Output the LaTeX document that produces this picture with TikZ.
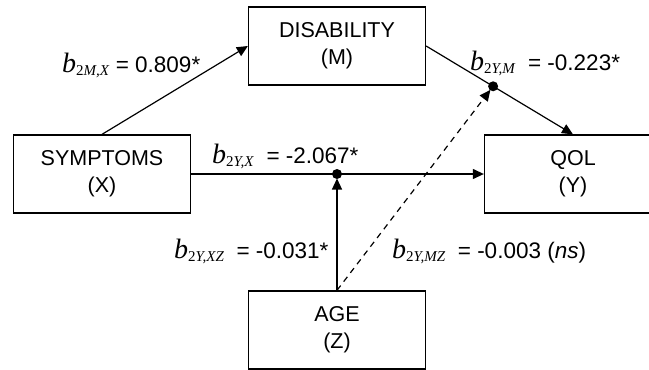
\documentclass[tikz,border=0pt]{standalone}
\usepackage{fontspec}
\setmainfont{Liberation Sans}
\newfontfamily\tms{Liberation Serif}
\usetikzlibrary{calc,positioning,arrows.meta}
\tikzset{
    x=1pt, y=-1pt, % pixel-like units
    varbox/.style={draw, line width=1.3pt, minimum width=177pt, minimum height=78pt,
                   align=center, font=\fontsize{21.5}{27}\selectfont},
    path/.style={line width=1.2pt, -{Triangle[length=11pt,width=10pt]}},
    coeff/.style={anchor=base west, inner sep=0pt, font=\fontsize{22.5}{24}\selectfont},
}
% b with its subscript: #1 = letters after the 2
\newcommand{\bcoef}[1]{{\tms\fontsize{28}{28}\selectfont\itshape b}\raisebox{-3pt}{\tms\fontsize{15}{15}\selectfont 2\textit{#1}}}

\begin{document}
\begin{tikzpicture}
  \useasboundingbox (0,0) rectangle (649,370);
  \clip (0,0) rectangle (649,370);

  % the four variables
  \node[varbox] (n_m) at (337,46) {DISABILITY\\(M)};
  \node[varbox] (n_x) at (102,174) {SYMPTOMS\\(X)};
  \node[varbox] (n_y) at (573,174) {QOL\\(Y)};
  \node[varbox] (n_z) at (337,330) {AGE\\(Z)};

  % points where age moderates
  \coordinate (j_x) at (n_x.east -| n_z.north);
  \path (n_m.east) -- (n_y.north) coordinate[pos=0.456] (j_m);

  \draw[path] (n_x.north) -- (n_m.west);
  \draw[path] (n_m.east) -- (n_y.north);
  \draw[path] (n_x.east) -- (n_y.west);
  \draw[path, shorten >=4.5pt] (n_z.north) -- (j_x);
  \draw[path, dash pattern=on 6pt off 5pt, shorten >=4.5pt] (n_z.north) -- (j_m);
  \fill (j_x) circle (5);
  \fill (j_m) circle (5);

  % coefficients
  \node[coeff] (l_mx)  at (62,72)   {\bcoef{M,X} = 0.809*};
  \node[coeff] (l_ym)  at (470,70)  {\bcoef{Y,M}\ \ = -0.223*};
  \node[coeff] (l_yx)  at (212,163) {\bcoef{Y,X}\ \ = -2.067*};
  \node[coeff] (l_yxz) at (174,258) {\bcoef{Y,XZ}\ \ = -0.031*};
  \node[coeff] (l_ymz) at (392,258) {\bcoef{Y,MZ}\ \ = -0.003 (\textit{ns})};
\end{tikzpicture}
\end{document}
